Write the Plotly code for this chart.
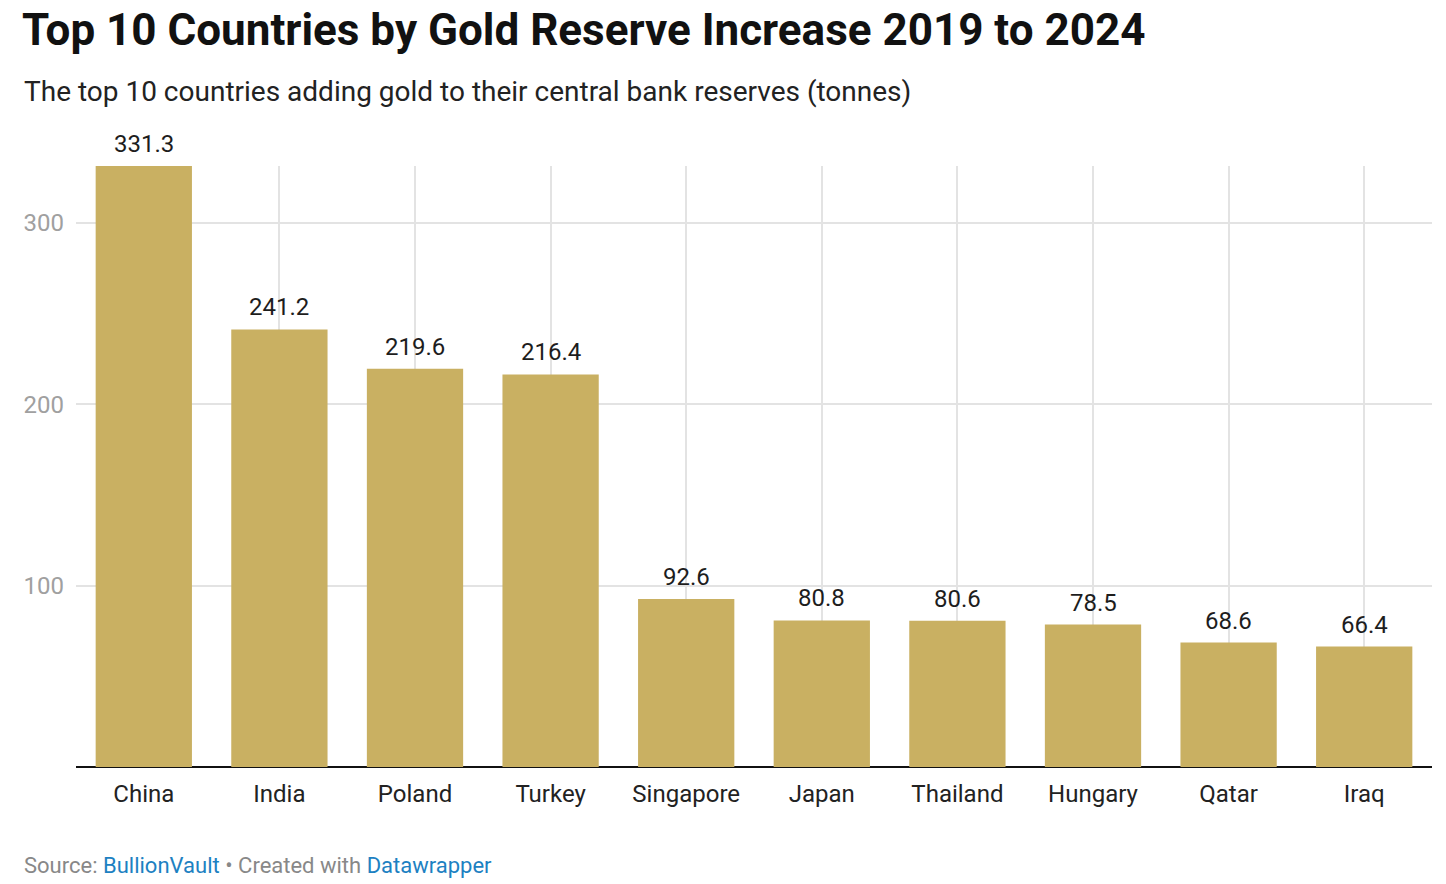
import plotly.graph_objects as go

countries = ["China", "India", "Poland", "Turkey", "Singapore",
             "Japan", "Thailand", "Hungary", "Qatar", "Iraq"]
tonnes = [331.3, 241.2, 219.6, 216.4, 92.6, 80.8, 80.6, 78.5, 68.6, 66.4]
y_ticks = [100, 200, 300]

# page has an 8px body margin, so figure coords = screen coords - 8
W, H = 1446, 884
OFF = 8
L, R, T, B = 68, 22, 158, 124.5
plot_h = H - T - B
plot_w = W - L - R

def px_x(x):
    return (x - OFF - L) / plot_w

def px_y(y):
    return (H - B - (y - OFF)) / plot_h

gold = "#c9b062"

fig = go.Figure()
fig.add_trace(go.Bar(x=countries, y=tonnes, marker_color=gold,
                     marker_line_width=0, hoverinfo="x+y"))

# value labels above the bars
for c, v in zip(countries, tonnes):
    fig.add_annotation(x=c, y=v, text=f"{v:.1f}", showarrow=False,
                       xref="x", yref="y", yanchor="bottom", yshift=6,
                       font=dict(family="Roboto", size=24, color="#1d1d1d"))

fig.add_annotation(text="The top 10 countries adding gold to their central bank reserves (tonnes)",
                   xref="paper", yref="paper", x=px_x(22), y=px_y(91),
                   xanchor="left", yanchor="middle", showarrow=False,
                   font=dict(family="Roboto", size=28, color="#222222"))

fig.add_annotation(text="<span style='color:#888888'>Source: </span>"
                        "<span style='color:#1d81c2'>BullionVault</span>"
                        "<span style='color:#888888'> • Created with </span>"
                        "<span style='color:#1d81c2'>Datawrapper</span>",
                   xref="paper", yref="paper", x=px_x(22), y=px_y(866),
                   xanchor="left", yanchor="middle", showarrow=False,
                   font=dict(family="Roboto", size=22, color="#888888"))

fig.update_layout(
    width=W, height=H,
    margin=dict(l=L, r=R, t=T, b=B),
    paper_bgcolor="white", plot_bgcolor="white",
    bargap=0.29,
    showlegend=False,
    title=dict(text="<b>Top 10 Countries by Gold Reserve Increase 2019 to 2024</b>",
               xref="container", yref="container", x=(22 - OFF) / W,
               y=1 - (30 - OFF) / H,
               xanchor="left", yanchor="middle",
               font=dict(family="Roboto", size=44, color="#111111")),
    font=dict(family="Roboto"),
)

fig.update_xaxes(showgrid=True, gridcolor="#e3e3e3", gridwidth=1.5,
                 showline=False, zeroline=False, ticks="",
                 ticklabelstandoff=10,
                 tickfont=dict(family="Roboto", size=24, color="#222222"))

fig.update_yaxes(range=[0, 331.3], tickvals=y_ticks,
                 showgrid=True, gridcolor="#e3e3e3", gridwidth=1.5,
                 zeroline=True, zerolinecolor="#111111", zerolinewidth=2,
                 showline=False, ticks="", ticklabelstandoff=11,
                 tickfont=dict(family="Roboto", size=24, color="#a0a0a0"))

fig.write_html("out.html")
